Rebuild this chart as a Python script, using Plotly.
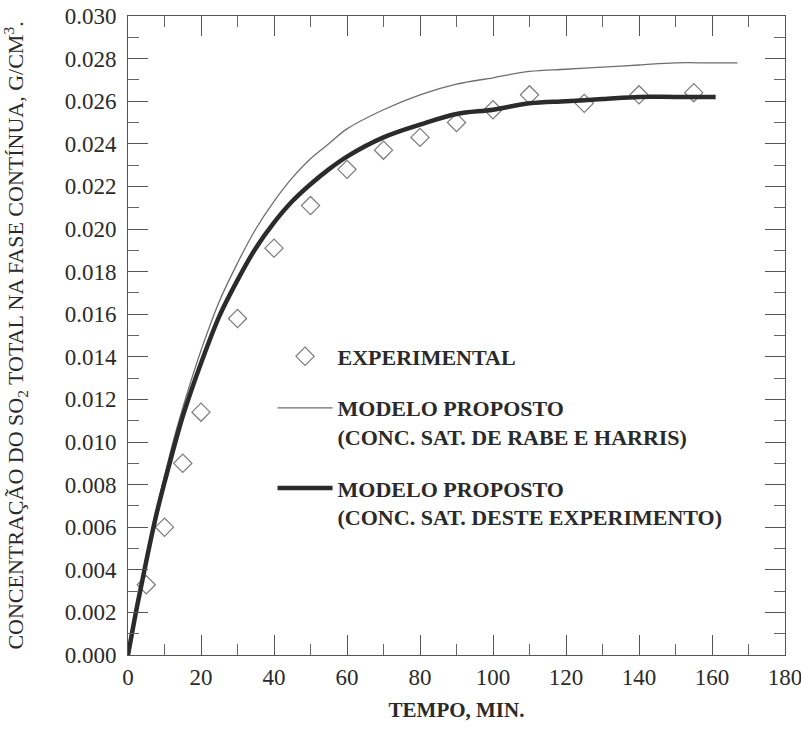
import plotly.graph_objects as go

# Experimental data (time in min, concentration g/cm3)
t_exp = [5, 10, 15, 20, 30, 40, 50, 60, 70, 80, 90, 100, 110, 125, 140, 155]
c_exp = [0.0033, 0.0060, 0.0090, 0.0114, 0.0158, 0.0191, 0.0211, 0.0228,
         0.0237, 0.0243, 0.0250, 0.0256, 0.0263, 0.0259, 0.0263, 0.0264]

# Proposed model with saturation concentration of Rabe and Harris (thin line)
t_rh = [0, 2.5, 5, 7.5, 10, 12.5, 15, 17.5, 20, 25, 30, 35, 40, 45, 50, 55,
        60, 70, 80, 90, 100, 110, 120, 130, 140, 150, 160, 167]
c_rh = [0.0, 0.0024, 0.0046, 0.0066, 0.0084, 0.0101, 0.0116, 0.0130, 0.0143,
        0.0166, 0.0184, 0.0200, 0.0213, 0.0224, 0.0233, 0.0240, 0.0247,
        0.0256, 0.0263, 0.0268, 0.0271, 0.0274, 0.0275, 0.0276, 0.0277,
        0.0278, 0.0278, 0.0278]

# Proposed model with saturation concentration of this experiment (thick line)
t_te = [0, 2.5, 5, 7.5, 10, 12.5, 15, 17.5, 20, 25, 30, 35, 40, 45, 50, 55,
        60, 70, 80, 90, 100, 110, 120, 130, 140, 150, 161]
c_te = [0.0, 0.0023, 0.0044, 0.0064, 0.0081, 0.0097, 0.0112, 0.0125, 0.0137,
        0.0159, 0.0176, 0.0191, 0.0203, 0.0213, 0.0221, 0.0228, 0.0234,
        0.0243, 0.0249, 0.0254, 0.0256, 0.0259, 0.0260, 0.0261, 0.0262,
        0.0262, 0.0262]

FONT = "Liberation Serif, Times New Roman, DejaVu Serif, serif"

fig = go.Figure()
fig.add_trace(go.Scatter(
    x=t_exp, y=c_exp, mode="markers", name="<b>EXPERIMENTAL</b>",
    legendgroup="a",
    marker=dict(symbol="diamond-open", size=14, color="#7a7a7a",
                line=dict(width=1.2, color="#7a7a7a")),
))
fig.add_trace(go.Scatter(
    x=t_rh, y=c_rh, mode="lines", line_shape="spline",
    name="<b>MODELO PROPOSTO<br>(CONC. SAT. DE RABE E HARRIS)</b>",
    legendgroup="b",
    line=dict(color="#6e6e6e", width=1.3),
))
fig.add_trace(go.Scatter(
    x=t_te, y=c_te, mode="lines", line_shape="spline",
    name="<b>MODELO PROPOSTO<br>(CONC. SAT. DESTE EXPERIMENTO)</b>",
    legendgroup="c",
    line=dict(color="#2b2b2b", width=4.5),
))

axis_common = dict(
    showline=True, linecolor="#555555", linewidth=1, mirror="allticks",
    ticks="inside", ticklen=20, tickwidth=1, tickcolor="#555555",
    showgrid=False, zeroline=False, ticklabeloverflow="allow",
    automargin=False,
    tickfont=dict(family=FONT, size=23, color="#2a2a2a"),
)

fig.update_xaxes(
    range=[0, 180], dtick=20, tick0=0,
    minor=dict(dtick=10, ticks="inside", ticklen=11, tickcolor="#666666"),
    ticklabelstandoff=1,
    title=dict(text="<b>TEMPO, MIN.</b>", standoff=13,
               font=dict(family=FONT, size=21, color="#2a2a2a")),
    **axis_common,
)
fig.update_yaxes(
    range=[0, 0.030], dtick=0.002, tick0=0, tickformat=".3f",
    minor=dict(dtick=0.001, ticks="inside", ticklen=11, tickcolor="#666666"),
    ticklabelstandoff=6,
    title=dict(text="CONCENTRAÇÃO DO SO<sub>2</sub> TOTAL NA FASE CONTÍNUA, G/CM<sup>3</sup>.",
               standoff=45,
               font=dict(family=FONT, size=22, color="#2a2a2a")),
    **axis_common,
)

fig.update_layout(
    width=801, height=730,
    margin=dict(l=128, r=16, t=16, b=75),
    paper_bgcolor="white", plot_bgcolor="white",
    font=dict(family=FONT, color="#2a2a2a"),
    legend=dict(
        x=0.22, y=0.50, xanchor="left", yanchor="top",
        bgcolor="rgba(0,0,0,0)", borderwidth=0,
        font=dict(family=FONT, size=22, color="#2a2a2a"),
        traceorder="grouped", tracegroupgap=20, valign="top",
        itemwidth=55,
    ),
)

fig.write_html("out.html")
